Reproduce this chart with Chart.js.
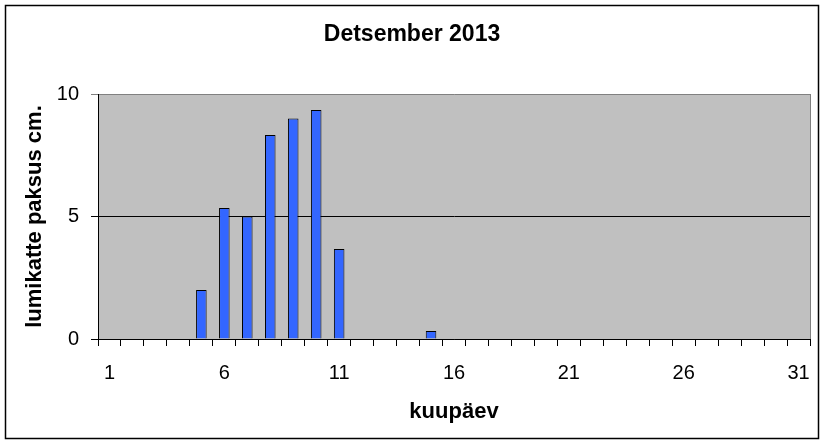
<!DOCTYPE html>
<html>
<head>
<meta charset="utf-8">
<script src="https://cdn.jsdelivr.net/npm/chart.js@4/dist/chart.umd.min.js"></script>
<style>
  body { margin: 0; background: #fff; }
  #wrap { width: 825px; height: 445px; }
</style>
</head>
<body>
<div id="wrap"><canvas id="graafik" width="825" height="445"></canvas></div>
<script>
// kuupäevad 1..31
const paevad = ['1','2','3','4','5','6','7','8','9','10','11','12','13','14','15','16',
                '17','18','19','20','21','22','23','24','25','26','27','28','29','30','31'];
// lumikatte paksus cm (tühjad päevad = null)
const lumi = [null, null, null, null, 2, 5.35, 5, 8.33, 9, 9.35, 3.67, null, null, null, 0.33, null,
              null, null, null, null, null, null, null, null, null, null, null, null, null, null, null];
const yTikid = [0, 5, 10];

const font = 'Arial, "Liberation Sans", sans-serif';

// hall joonise ala + raamid
const taust = {
  id: 'taust',
  beforeDraw(chart) {
    const { ctx, chartArea: a } = chart;
    ctx.save();
    ctx.fillStyle = '#c0c0c0';
    ctx.fillRect(a.left, a.top, a.right - a.left, a.bottom - a.top);
    ctx.restore();
  },
  afterDraw(chart) {
    const { ctx, chartArea: a } = chart;
    ctx.save();
    ctx.strokeStyle = '#808080';
    ctx.lineWidth = 1;
    ctx.beginPath();
    ctx.moveTo(a.right + 0.5, a.top);
    ctx.lineTo(a.right + 0.5, a.bottom);
    ctx.stroke();
    ctx.strokeStyle = '#000';
    ctx.lineWidth = 1.5;
    ctx.strokeRect(5.5, 5.5, 813, 433);
    ctx.restore();
  }
};

new Chart(document.getElementById('graafik'), {
  type: 'bar',
  data: {
    labels: paevad,
    datasets: [{
      data: lumi,
      backgroundColor: '#3366ff',
      borderColor: '#000',
      borderWidth: 1,
      barPercentage: 0.46,
      categoryPercentage: 1
    }]
  },
  options: {
    responsive: false,
    animation: false,
    layout: { padding: { left: 14, right: 15, top: 0, bottom: 0 } },
    plugins: {
      legend: { display: false },
      tooltip: { enabled: false },
      title: {
        display: true,
        text: 'Detsember 2013',
        color: '#000',
        font: { family: font, size: 23, weight: 'bold' },
        padding: { top: 21, bottom: 45.4 }
      }
    },
    scales: {
      x: {
        offset: true,
        grid: {
          offset: true,
          drawOnChartArea: false,
          drawTicks: true,
          tickLength: 7,
          color: '#000'
        },
        border: { color: '#000', width: 1 },
        ticks: {
          color: '#000',
          font: { family: font, size: 20 },
          padding: 15,
          maxRotation: 0,
          autoSkip: false,
          callback: (v, i) => (i % 5 === 0 ? paevad[i] : '')
        },
        title: {
          display: true,
          text: 'kuupäev',
          color: '#000',
          font: { family: font, size: 22, weight: 'bold' },
          padding: { top: 0, bottom: 20 }
        },
        afterFit(s) { s.height = 106; }
      },
      y: {
        min: 0,
        max: 10,
        afterBuildTicks(s) { s.ticks = yTikid.map(v => ({ value: v })); },
        grid: {
          color: c => (c.tick && c.tick.value === 10 ? '#808080' : '#000'),
          tickLength: 7,
          drawTicks: true
        },
        border: { color: '#000', width: 1 },
        ticks: {
          color: '#000',
          font: { family: font, size: 20 },
          padding: 12
        },
        title: {
          display: true,
          text: 'lumikatte paksus cm.',
          color: '#000',
          font: { family: font, size: 22, weight: 'bold' },
          padding: { top: 8, bottom: 0 }
        },
        afterFit(s) { s.width = 84; }
      }
    }
  },
  plugins: [taust]
});
</script>
</body>
</html>
